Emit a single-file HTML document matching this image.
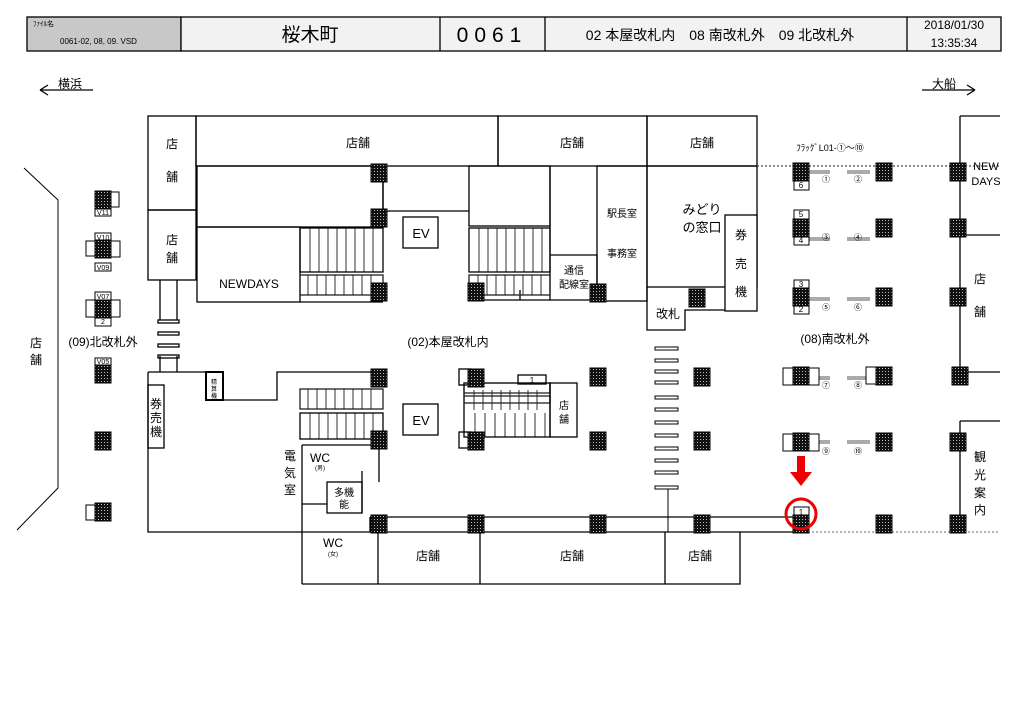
<!DOCTYPE html>
<html><head><meta charset="utf-8"><style>
html,body{margin:0;padding:0;background:#fff;width:1024px;height:724px;overflow:hidden}
text{font-family:"Liberation Sans","Noto Sans CJK JP",sans-serif;fill:#000}
</style></head><body>
<svg width="1024" height="724" viewBox="0 0 1024 724" xmlns="http://www.w3.org/2000/svg">
<defs>
<pattern id="dots" width="3" height="3" patternUnits="userSpaceOnUse"><rect width="3" height="3" fill="#111"/><rect x="1" y="1" width="1" height="1" fill="#bbb"/></pattern>
<symbol id="p" overflow="visible"><rect x="-8" y="-9" width="16" height="18" fill="url(#dots)" stroke="#000" stroke-width="1"/></symbol>
</defs>
<g fill="none" stroke="#000" stroke-width="1.3">
<!-- header -->
<rect x="27" y="17" width="154" height="34" fill="#c8c8c8"/>
<rect x="181" y="17" width="820" height="34" fill="#f2f2f2"/>
<line x1="440" y1="17" x2="440" y2="51"/><line x1="545" y1="17" x2="545" y2="51"/><line x1="907" y1="17" x2="907" y2="51"/>
<!-- arrows -->
<path d="M40 90H93M40 90l8-5M40 90l8 5"/>
<path d="M922 90H975M975 90l-8-5M975 90l-8 5"/>
<!-- top row -->
<rect x="148" y="116" width="48" height="94"/><rect x="148" y="210" width="48" height="70"/>
<rect x="196" y="116" width="302" height="50"/><rect x="498" y="116" width="149" height="50"/><rect x="647" y="116" width="110" height="50"/>
<rect x="197" y="166" width="186" height="61"/><rect x="197" y="227" width="103" height="75"/>
<path d="M383 166V211H469"/><rect x="469" y="166" width="81" height="60"/>
<path d="M550 166V255M550 255H597V300H550Z"/><rect x="597" y="166" width="50" height="135"/>
<rect x="647" y="166" width="110" height="121"/><rect x="725" y="215" width="32" height="96" fill="#fff"/>
<path d="M647 287V330H685V310H725"/>
<path d="M300 302H383M469 300H520V290M520 300H550"/>
<!-- stairs top -->
<rect x="300" y="228" width="83" height="44"/><rect x="300" y="275" width="83" height="20" stroke="#222"/>
<rect x="469" y="228" width="81" height="44"/><rect x="469" y="275" width="81" height="20" stroke="#222"/>
<g stroke-width="0.8"><path d="M310 228v44M319 228v44M328 228v44M337 228v44M346 228v44M355 228v44M364 228v44M373 228v44M479 228v44M488 228v44M497 228v44M506 228v44M515 228v44M524 228v44M533 228v44M542 228v44M308 275v20M317 275v20M326 275v20M335 275v20M344 275v20M353 275v20M362 275v20M371 275v20M478 275v20M487 275v20M496 275v20M505 275v20M514 275v20M523 275v20M532 275v20M541 275v20"/></g>
<rect x="403" y="217" width="35" height="31"/>
<!-- left connector -->
<path d="M160 280V320M177 280V320M160 356V372M177 356V372"/>
<rect x="158" y="320" width="21" height="3"/><rect x="158" y="332" width="21" height="3"/><rect x="158" y="344" width="21" height="3"/><rect x="158" y="355" width="21" height="3"/>
<!-- lower block -->
<path d="M148 372V532H302M148 372H206M223 400H277V372H383"/>
<rect x="206" y="372" width="17" height="28" stroke-width="2"/>
<rect x="148" y="385" width="16" height="63"/>
<rect x="300" y="389" width="83" height="20" stroke="#222"/><rect x="300" y="413" width="83" height="26"/>
<g stroke-width="0.8"><path d="M308 389v20M317 389v20M326 389v20M335 389v20M344 389v20M353 389v20M362 389v20M371 389v20M310 413v26M319 413v26M328 413v26M337 413v26M346 413v26M355 413v26M364 413v26M373 413v26M474 390v20M483 390v20M492 390v20M501 390v20M510 390v20M519 390v20M528 390v20M537 390v20M475 413v24M485 413v24M495 413v24M505 413v24M515 413v24M525 413v24M535 413v24M545 413v24"/></g>
<rect x="403" y="404" width="35" height="31"/>
<path d="M302 445H383M302 445V584M302 504H327M362 471V513M379 440V482"/>
<rect x="327" y="482" width="35" height="31"/>
<rect x="464" y="383" width="86" height="54"/><rect x="464" y="383" width="86" height="10" stroke="#222"/><rect x="464" y="396" width="86" height="7" stroke="#222"/>
<rect x="550" y="383" width="27" height="54"/><rect x="518" y="375" width="28" height="9"/>
<rect x="459" y="369" width="12" height="16"/><rect x="459" y="432" width="12" height="16"/>
<!-- bottom -->
<path d="M370 517H800M370 517V532M302 532H800"/>
<path d="M800 532H1000" stroke="#888" stroke-dasharray="2 2"/>
<path d="M302 584H740V532M378 532V584M480 532V584M665 532V584"/>
<!-- zebra -->
<g stroke-width="1"><rect x="655" y="347" width="23" height="3"/><rect x="655" y="359" width="23" height="3"/><rect x="655" y="370" width="23" height="3"/><rect x="655" y="381" width="23" height="3"/><rect x="655" y="396" width="23" height="3"/><rect x="655" y="408" width="23" height="3"/><rect x="655" y="421" width="23" height="3"/><rect x="655" y="434" width="23" height="3"/><rect x="655" y="447" width="23" height="3"/><rect x="655" y="459" width="23" height="3"/><rect x="655" y="471" width="23" height="3"/><rect x="655" y="486" width="23" height="3"/><path d="M668 489V532"/></g>
<!-- left wall -->
<path d="M24 168L58 200V488L17 530" stroke-width="1"/>
<!-- right side -->
<path d="M757 166H1000" stroke="#444" stroke-dasharray="2 2"/>
<path d="M960 116V372M960 235H1000M960 372H1000M1000 116H960M960 421V532M960 421H1000"/>
<!-- flag gray lines -->
<g stroke="#aaa" stroke-width="4"><path d="M809 172H830M847 172H870M809 239H830M847 239H870M809 299H830M847 299H870M809 378H830M847 378H870M809 442H830M847 442H870"/></g>
<!-- small label boxes -->
<g stroke-width="1" fill="#fff">
<rect x="794" y="181" width="15" height="9"/><rect x="794" y="210" width="15" height="9"/><rect x="794" y="236" width="15" height="9"/>
<rect x="794" y="280" width="15" height="9"/><rect x="794" y="305" width="15" height="9"/>
<rect x="783" y="368" width="11" height="17"/><rect x="809" y="368" width="10" height="17"/><rect x="866" y="367" width="10" height="17"/>
<rect x="783" y="434" width="11" height="17"/><rect x="809" y="434" width="10" height="17"/><rect x="794" y="507" width="15" height="10"/>
<rect x="95" y="208" width="16" height="8"/><rect x="111" y="192" width="8" height="15"/>
<rect x="95" y="233" width="16" height="8"/><rect x="95" y="263" width="16" height="8"/><rect x="86" y="241" width="9" height="15"/><rect x="111" y="241" width="9" height="16"/>
<rect x="95" y="292" width="16" height="8"/><rect x="95" y="318" width="16" height="8"/><rect x="86" y="300" width="9" height="17"/><rect x="111" y="300" width="9" height="17"/>
<rect x="95" y="358" width="16" height="7"/><rect x="86" y="505" width="9" height="15"/>
</g>
</g>
<!-- pillars -->
<g>
<use href="#p" x="379" y="173"/><use href="#p" x="379" y="218"/><use href="#p" x="379" y="292"/><use href="#p" x="476" y="292"/><use href="#p" x="598" y="293"/><use href="#p" x="697" y="298"/>
<use href="#p" x="379" y="378"/><use href="#p" x="476" y="378"/><use href="#p" x="598" y="377"/><use href="#p" x="702" y="377"/>
<use href="#p" x="379" y="440"/><use href="#p" x="476" y="441"/><use href="#p" x="598" y="441"/><use href="#p" x="702" y="441"/>
<use href="#p" x="379" y="524"/><use href="#p" x="476" y="524"/><use href="#p" x="598" y="524"/><use href="#p" x="702" y="524"/><use href="#p" x="801" y="524"/><use href="#p" x="884" y="524"/><use href="#p" x="958" y="524"/>
<use href="#p" x="103" y="200"/><use href="#p" x="103" y="249"/><use href="#p" x="103" y="309"/><use href="#p" x="103" y="374"/><use href="#p" x="103" y="441"/><use href="#p" x="103" y="512"/>
<use href="#p" x="801" y="172"/><use href="#p" x="884" y="172"/><use href="#p" x="958" y="172"/>
<use href="#p" x="801" y="228"/><use href="#p" x="884" y="228"/><use href="#p" x="958" y="228"/>
<use href="#p" x="801" y="297"/><use href="#p" x="884" y="297"/><use href="#p" x="958" y="297"/>
<use href="#p" x="801" y="376"/><use href="#p" x="884" y="376"/><use href="#p" x="960" y="376"/>
<use href="#p" x="801" y="442"/><use href="#p" x="884" y="442"/><use href="#p" x="958" y="442"/>
</g>
<!-- red arrow/circle -->
<path d="M797 456h8v16h7l-11 14-11-14h7z" fill="#e00"/>
<circle cx="801" cy="514" r="15" fill="none" stroke="#e00" stroke-width="3"/>
<!-- text -->
<g font-size="7"><text x="33" y="26">ﾌｧｲﾙ名</text><text x="60" y="44" font-size="8">0061-02, 08, 09. VSD</text></g>
<text x="310" y="41" font-size="19" text-anchor="middle">桜木町</text>
<text x="492" y="42" font-size="21" text-anchor="middle" letter-spacing="6">0061</text>
<text x="720" y="40" font-size="14" text-anchor="middle">02 本屋改札内　08 南改札外　09 北改札外</text>
<text x="954" y="29" font-size="12" text-anchor="middle">2018/01/30</text><text x="954" y="47" font-size="12" text-anchor="middle">13:35:34</text>
<g font-size="12">
<text x="58" y="88">横浜</text><text x="932" y="88">大船</text>
<text x="172" y="148" text-anchor="middle">店</text><text x="172" y="181" text-anchor="middle">舗</text>
<text x="172" y="244" text-anchor="middle">店</text><text x="172" y="262" text-anchor="middle">舗</text>
<text x="358" y="147" text-anchor="middle">店舗</text><text x="572" y="147" text-anchor="middle">店舗</text><text x="702" y="147" text-anchor="middle">店舗</text>
<text x="249" y="288" text-anchor="middle">NEWDAYS</text>
<text x="421" y="238" text-anchor="middle" font-size="13">EV</text><text x="421" y="425" text-anchor="middle" font-size="13">EV</text>
<text x="702" y="214" text-anchor="middle" font-size="13">みどり</text><text x="702" y="232" text-anchor="middle" font-size="13">の窓口</text>
<text x="741" y="239" text-anchor="middle">券</text><text x="741" y="268" text-anchor="middle">売</text><text x="741" y="296" text-anchor="middle">機</text>
<text x="668" y="318" text-anchor="middle">改札</text>
<text x="448" y="346" text-anchor="middle">(02)本屋改札内</text>
<text x="835" y="343" text-anchor="middle">(08)南改札外</text>
<text x="103" y="346" text-anchor="middle">(09)北改札外</text>
<text x="36" y="347" text-anchor="middle">店</text><text x="36" y="364" text-anchor="middle">舗</text>
<text x="156" y="408" text-anchor="middle">券</text><text x="156" y="422" text-anchor="middle">売</text><text x="156" y="436" text-anchor="middle">機</text>
<text x="290" y="460" text-anchor="middle">電</text><text x="290" y="477" text-anchor="middle">気</text><text x="290" y="494" text-anchor="middle">室</text>
<text x="320" y="462" text-anchor="middle">WC</text><text x="333" y="547" text-anchor="middle">WC</text>
<text x="428" y="560" text-anchor="middle">店舗</text><text x="572" y="560" text-anchor="middle">店舗</text><text x="700" y="560" text-anchor="middle">店舗</text>
<text x="980" y="283" text-anchor="middle">店</text><text x="980" y="316" text-anchor="middle">舗</text>
<text x="980" y="461" text-anchor="middle">観</text><text x="980" y="479" text-anchor="middle">光</text><text x="980" y="497" text-anchor="middle">案</text><text x="980" y="514" text-anchor="middle">内</text>
<text x="986" y="170" text-anchor="middle" font-size="11">NEW</text><text x="986" y="185" text-anchor="middle" font-size="11">DAYS</text>
</g>
<g font-size="10">
<text x="622" y="217" text-anchor="middle">駅長室</text><text x="622" y="257" text-anchor="middle">事務室</text>
<text x="574" y="274" text-anchor="middle">通信</text><text x="574" y="288" text-anchor="middle">配線室</text>
<text x="344" y="496" text-anchor="middle">多機</text><text x="344" y="508" text-anchor="middle">能</text>
<text x="564" y="409" text-anchor="middle">店</text><text x="564" y="423" text-anchor="middle">舗</text>
<text x="830" y="151" text-anchor="middle" font-size="9">ﾌﾗｯｸﾞL01-①～⑩</text>
</g>
<g font-size="6" text-anchor="middle">
<text x="320" y="470">(男)</text><text x="333" y="556">(女)</text><text x="214" y="384">精</text><text x="214" y="391">算</text><text x="214" y="398">機</text>
</g>
<g font-size="8" text-anchor="middle">
<text x="801" y="188">6</text><text x="801" y="217">5</text><text x="801" y="243">4</text><text x="801" y="287">3</text><text x="801" y="312">2</text><text x="801" y="515">1</text>
<text x="826" y="182">①</text><text x="858" y="182">②</text><text x="826" y="240">③</text><text x="858" y="240">④</text><text x="826" y="310">⑤</text><text x="858" y="310">⑥</text><text x="826" y="388">⑦</text><text x="858" y="388">⑧</text><text x="826" y="454">⑨</text><text x="858" y="454">⑩</text>
<text x="532" y="383">1</text>
<text x="103" y="215" font-size="7">V11</text><text x="103" y="240" font-size="7">V10</text><text x="103" y="270" font-size="7">V09</text><text x="103" y="299" font-size="7">V07</text><text x="103" y="324" font-size="7">2</text><text x="103" y="364" font-size="7">V05</text>
</g>
</svg>
</body></html>
